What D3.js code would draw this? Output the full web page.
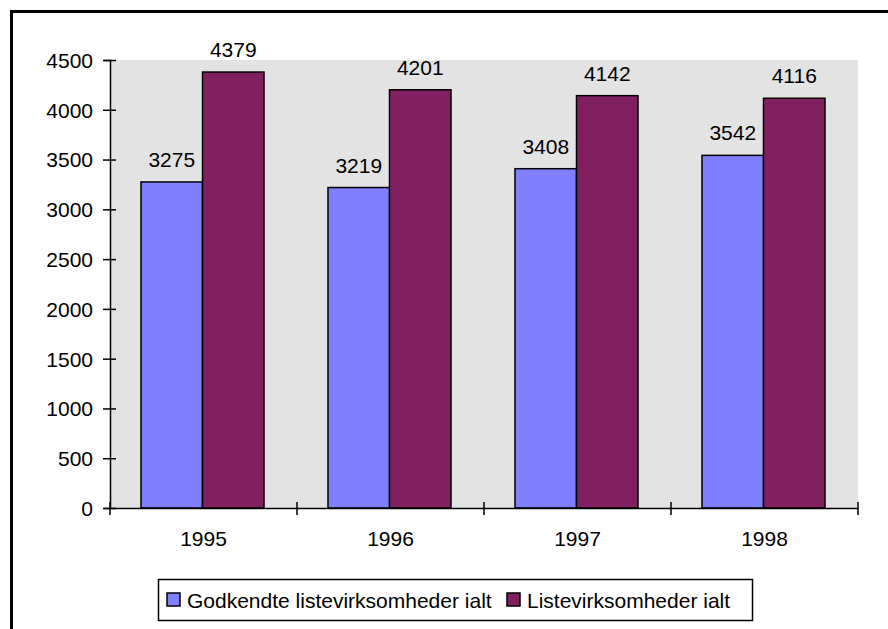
<!DOCTYPE html>
<html>
<head>
<meta charset="utf-8">
<script src="https://cdn.jsdelivr.net/npm/d3@7"></script>
<style>
  body { margin: 0; background: #fff; }
  svg { display: block; font-family: "Liberation Sans", Arial, sans-serif; }
</style>
</head>
<body>
<div id="chart"></div>
<script>
// data
var years = ["1995", "1996", "1997", "1998"];
var godkendte = [3275, 3219, 3408, 3542];
var liste = [4379, 4201, 4142, 4116];
var seriesNames = ["Godkendte listevirksomheder ialt", "Listevirksomheder ialt"];
var yTicks = [0, 500, 1000, 1500, 2000, 2500, 3000, 3500, 4000, 4500];

var colors = ["#8080ff", "#802060"];
var fontSize = "21px";
var w = 888, h = 629;
var plot = {left: 110, right: 858, top: 60, bottom: 508};

var svg = d3.select("#chart").append("svg")
  .attr("width", w)
  .attr("height", h);

// outer frame (only top and left edges show in the crop)
svg.append("path")
  .attr("d", "M11.5," + h + "V11.5H" + w)
  .attr("fill", "none")
  .attr("stroke", "#000")
  .attr("stroke-width", 3);

// scales
var x0 = d3.scaleBand().domain(years).range([plot.left, plot.right]);
var x1 = d3.scaleBand().domain([0, 1]).range([31, 154]);
var y = d3.scaleLinear().domain([0, 4500]).range([plot.bottom, plot.top]);

// gray plot area
svg.append("rect")
  .attr("x", plot.left)
  .attr("y", plot.top)
  .attr("width", plot.right - plot.left)
  .attr("height", plot.bottom - plot.top)
  .attr("fill", "#e3e3e3");

// build rows for the grouped bars
var rows = years.map(function(yr, i) {
  return {year: yr, values: [godkendte[i], liste[i]]};
});

var groups = svg.append("g").selectAll("g")
  .data(rows)
  .enter().append("g")
  .attr("transform", function(d) { return "translate(" + x0(d.year) + ",0)"; });

groups.selectAll("rect")
  .data(function(d) { return d.values.map(function(v, k) { return {k: k, v: v}; }); })
  .enter().append("rect")
  .attr("x", function(d) { return x1(d.k); })
  .attr("y", function(d) { return y(d.v); })
  .attr("width", x1.bandwidth())
  .attr("height", function(d) { return y(0) - y(d.v); })
  .attr("fill", function(d) { return colors[d.k]; })
  .attr("stroke", "#000")
  .attr("stroke-width", 1.5);

// value labels
groups.selectAll("text")
  .data(function(d) { return d.values.map(function(v, k) { return {k: k, v: v}; }); })
  .enter().append("text")
  .attr("x", function(d) { return x1(d.k) + x1.bandwidth() / 2; })
  .attr("y", function(d) { return y(d.v) - 15; })
  .attr("text-anchor", "middle")
  .style("font-size", fontSize)
  .text(function(d) { return d.v; });

// y axis
var yAxis = svg.append("g")
  .attr("transform", "translate(" + plot.left + ",0)")
  .call(d3.axisLeft(y).tickValues(yTicks).tickFormat(d3.format("d"))
    .tickSizeOuter(0).tickSize(6).tickPadding(11));
yAxis.selectAll(".tick line").attr("x1", -7).attr("x2", 6).attr("stroke-width", 1.5);
yAxis.select(".domain").attr("stroke-width", 1.5);
yAxis.selectAll("text").style("font-size", fontSize).attr("fill", "#000").attr("dy", "0.35em");

// x axis with ticks on band edges
var xAxis = svg.append("g")
  .attr("transform", "translate(0," + plot.bottom + ")")
  .call(d3.axisBottom(x0).tickSize(0).tickPadding(23));
xAxis.select(".domain").attr("stroke-width", 1.5);
xAxis.selectAll("text").style("font-size", fontSize).attr("fill", "#000");
xAxis.selectAll(".edge")
  .data(years.concat(["end"]))
  .enter().append("line")
  .attr("x1", function(d, i) { return i < years.length ? x0(d) : plot.right; })
  .attr("x2", function(d, i) { return i < years.length ? x0(d) : plot.right; })
  .attr("y1", -6)
  .attr("y2", 7)
  .attr("stroke", "#000")
  .attr("stroke-width", 1.5);

// legend
var legend = svg.append("g");
legend.append("rect")
  .attr("x", 158.5)
  .attr("y", 579.5)
  .attr("width", 594)
  .attr("height", 41)
  .attr("fill", "#fff")
  .attr("stroke", "#000")
  .attr("stroke-width", 1.5);

var legendX = [167, 507];
var items = legend.selectAll(".item")
  .data(seriesNames)
  .enter().append("g")
  .attr("transform", function(d, i) { return "translate(" + legendX[i] + ",593)"; });

items.append("rect")
  .attr("width", 13)
  .attr("height", 13)
  .attr("fill", function(d, i) { return colors[i]; })
  .attr("stroke", "#000")
  .attr("stroke-width", 1.5);

items.append("text")
  .attr("x", 20)
  .attr("y", 14.5)
  .style("font-size", fontSize)
  .text(function(d) { return d; });
</script>
</body>
</html>
